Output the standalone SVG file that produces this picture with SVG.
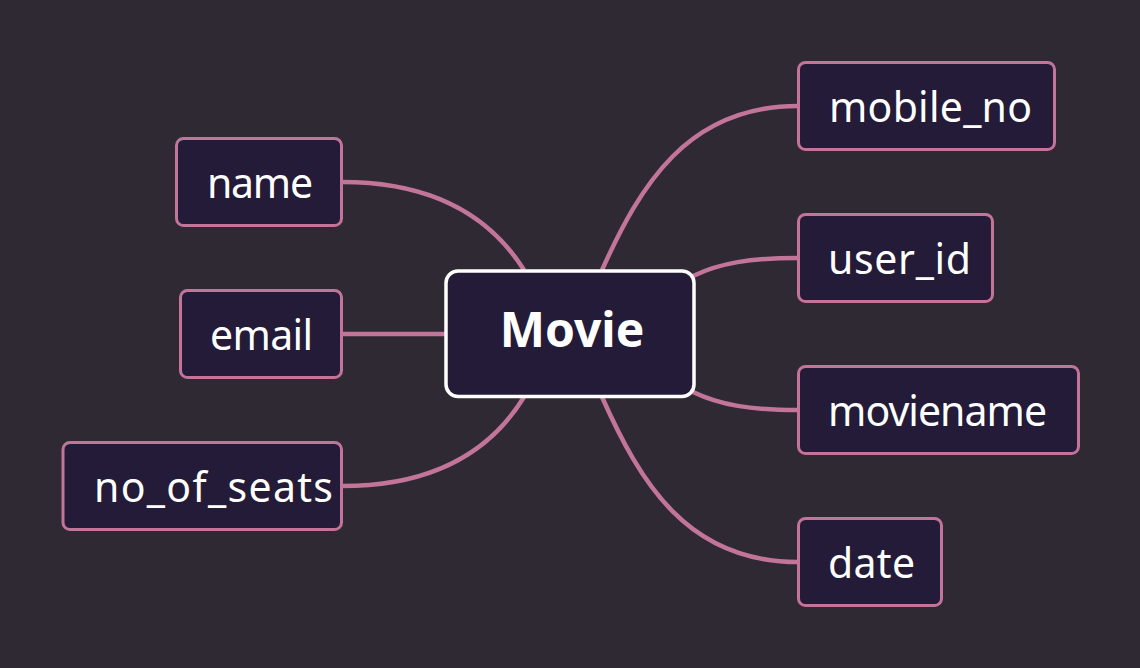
<svg xmlns="http://www.w3.org/2000/svg" width="1140" height="668" viewBox="0 0 1140 668">
<style>
.bg{fill:#2e2933}
.leaf rect{fill:#231b37;stroke:#c27499;stroke-width:3}
.leaf text{fill:#ffffff;font-family:"Noto Sans","Open Sans",sans-serif;font-size:41px}
.root rect{fill:#231b37;stroke:#ffffff;stroke-width:3.5}
.root text{fill:#ffffff;font-family:"Noto Sans","Open Sans",sans-serif;font-size:48px;font-weight:bold}
.edges path{fill:none;stroke:#c27499;stroke-width:4.5}
</style>
<rect class="bg" x="0" y="0" width="1140" height="668"/>
<g class="edges" id="connectors">
<path d="M342,182 C452,182 500,232 524,270"/>
<path d="M342,334 L446,334"/>
<path d="M342,486 C452,486 500,436 524,397"/>
<path d="M798,106 C687,106 640,186 602,270"/>
<path d="M798,258 C750,258 720,263 693,276"/>
<path d="M798,410 C750,410 720,405 693,392"/>
<path d="M798,562 C687,562 640,482 602,397"/>
</g>
<g class="root" id="node-movie">
<rect x="446" y="271" width="248" height="125.5" rx="12"/>
<text x="572" y="347" text-anchor="middle">Movie</text>
</g>
<g class="leaf" id="node-name">
<rect x="176.5" y="138.5" width="165" height="87" rx="7"/>
<text x="207" y="198" textLength="106" lengthAdjust="spacing">name</text>
</g>
<g class="leaf" id="node-email">
<rect x="180.5" y="290.5" width="161" height="87" rx="7"/>
<text x="210" y="350" textLength="103" lengthAdjust="spacing">email</text>
</g>
<g class="leaf" id="node-no_of_seats">
<rect x="63" y="442.5" width="278.5" height="87" rx="7"/>
<text x="94" y="502" textLength="239" lengthAdjust="spacing">no_of_seats</text>
</g>
<g class="leaf" id="node-mobile_no">
<rect x="798.5" y="62.5" width="256" height="87" rx="7"/>
<text x="829" y="122" textLength="203" lengthAdjust="spacing">mobile_no</text>
</g>
<g class="leaf" id="node-user_id">
<rect x="798.5" y="214.5" width="194" height="87" rx="7"/>
<text x="828" y="274" textLength="143" lengthAdjust="spacing">user_id</text>
</g>
<g class="leaf" id="node-moviename">
<rect x="798.5" y="366.5" width="280" height="87" rx="7"/>
<text x="828" y="426" textLength="219" lengthAdjust="spacing">moviename</text>
</g>
<g class="leaf" id="node-date">
<rect x="798.5" y="518.5" width="143" height="87" rx="7"/>
<text x="828" y="578" textLength="87" lengthAdjust="spacing">date</text>
</g>
</svg>
